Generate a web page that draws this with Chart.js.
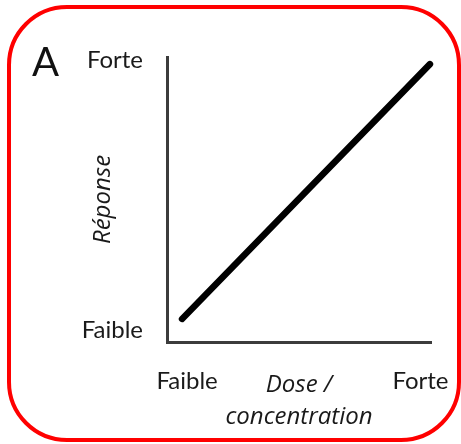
<!DOCTYPE html>
<html>
<head>
<meta charset="utf-8">
<script src="https://cdn.jsdelivr.net/npm/chart.js@4/dist/chart.umd.min.js"></script>
<style>
  html, body { margin: 0; padding: 0; background: #fff; }
  #wrap { position: relative; width: 461px; height: 444px; overflow: hidden; }
  #c { position: absolute; left: 0; top: 0; }
  #frame { position: absolute; left: 7px; top: 5px; width: 454px; height: 437px; box-sizing: border-box;
           border: 4.5px solid #ff0000; border-radius: 60px; pointer-events: none; }
</style>
</head>
<body>
<div id="wrap">
  <canvas id="c" width="461" height="444"></canvas>
  <div id="frame"></div>
</div>
<script>
// ---- data ----
const doseValues = [0.057, 0.996];          // x (Dose / concentration), 0 = Faible, 1 = Forte
const responseValues = [0.081, 0.975];      // y (Réponse)
const xTickValues = [0.076, 0.96];
const xTickLabels = ['Faible', 'Forte'];
const yTickValues = [0.042, 0.99];
const yTickLabels = ['Faible', 'Forte'];
const xTitle = ['Dose /', 'concentration'];
const yTitle = 'Réponse';
const panelLetter = 'A';

const points = doseValues.map((x, i) => ({ x: x, y: responseValues[i] }));

const letterPlugin = {
  id: 'letter',
  afterDraw(chart) {
    const ctx = chart.ctx;
    ctx.save();
    ctx.font = '40px Lato';
    ctx.fillStyle = '#111';
    ctx.textBaseline = 'alphabetic';
    ctx.textAlign = 'left';
    ctx.fillText(panelLetter, 32, 76);
    ctx.restore();
  }
};

const tickFont = { family: 'Lato', size: 24 };
const titleFont = { family: "'Open Sans'", size: 24, style: 'italic', lineHeight: 1.333 };

new Chart(document.getElementById('c'), {
  type: 'scatter',
  data: {
    datasets: [{
      data: points,
      showLine: true,
      borderColor: '#000',
      borderWidth: 6.5,
      borderCapStyle: 'round',
      pointRadius: 0,
      pointHoverRadius: 0,
      fill: false,
      clip: false
    }]
  },
  options: {
    responsive: false,
    animation: false,
    events: [],
    layout: { padding: { left: 0, top: 57, right: 30, bottom: 0 } },
    plugins: { legend: { display: false }, tooltip: { enabled: false } },
    scales: {
      x: {
        type: 'linear', min: 0, max: 1,
        afterFit(scale) { scale.height = 102; scale.paddingLeft = 0; scale.paddingRight = 0; },
        afterBuildTicks(scale) { scale.ticks = xTickValues.map(v => ({ value: v })); },
        grid: { display: false, drawTicks: false },
        border: { display: true, color: '#3c3c3c', width: 3 },
        ticks: {
          autoSkip: false, maxRotation: 0, padding: 25,
          font: tickFont, color: '#1a1a1a',
          callback: (v, i) => xTickLabels[i]
        },
        title: {
          display: true, text: xTitle, font: titleFont, color: '#1a1a1a',
          padding: { top: 0, bottom: 11 }
        }
      },
      y: {
        type: 'linear', min: 0, max: 1,
        afterFit(scale) { scale.width = 167; scale.paddingTop = 0; scale.paddingBottom = 0; },
        afterBuildTicks(scale) { scale.ticks = yTickValues.map(v => ({ value: v })); },
        grid: { display: false, drawTicks: false },
        border: { display: true, color: '#3c3c3c', width: 3 },
        ticks: {
          autoSkip: false, padding: 24,
          font: tickFont, color: '#1a1a1a',
          callback: (v, i) => yTickLabels[i]
        },
        title: {
          display: true, text: yTitle, font: { family: "'Open Sans'", size: 24, style: 'italic' }, color: '#1a1a1a',
          padding: { top: 89, bottom: 0 }
        }
      }
    }
  },
  plugins: [letterPlugin]
});
</script>
</body>
</html>
